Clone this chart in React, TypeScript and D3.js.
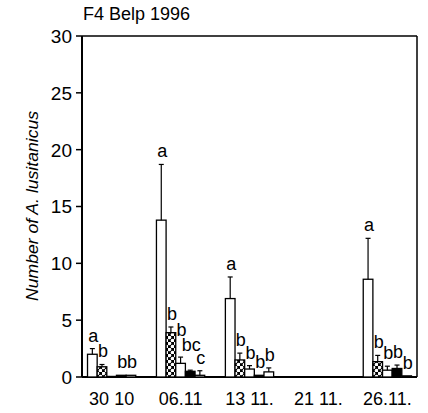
import React from 'react';
import * as d3 from 'd3';

const dates = ['30 10', '06.11', '13 11.', '21 11.', '26.11.'];
const seriesKeys = ['s1', 's2', 's3', 's4', 's5'];
const means = [
  [2.0, 0.9, 0.05, 0.15, 0.15],
  [13.8, 3.9, 1.2, 0.5, 0.15],
  [6.9, 1.5, 0.7, 0.15, 0.45],
  [0, 0, 0, 0, 0],
  [8.6, 1.35, 0.6, 0.75, 0.1],
];
const upper = [
  [2.5, 1.1, 0.05, 0.15, 0.15],
  [18.7, 4.4, 1.75, 0.6, 0.55],
  [8.8, 2.1, 1.0, 0.15, 0.8],
  [0, 0, 0, 0, 0],
  [12.2, 1.9, 0.95, 1.05, 0.1],
];
const letters = [
  ['a', 'b', '', 'b', 'b'],
  ['a', 'b', 'b', 'bc', 'c'],
  ['a', 'b', 'b', 'b', 'b'],
  ['', '', '', '', ''],
  ['a', 'b', 'b', 'b', 'b'],
];
const yTicks = [0, 5, 10, 15, 20, 25, 30];
const fills = ['#fff', 'url(#mesh)', '#fff', '#000', '#fff'];

const W = 428, H = 413;
const left = 82, right = 417, top = 36, bottom = 377;
const LF = 18; // letter font size

type Lab = { text: string; x: number; base: number; w: number; h: number; u: number; v: number; bx: number; bw: number; fill: string };

export default function App() {
  const y = d3.scaleLinear().domain([0, 30]).range([bottom, top]);
  const x0 = d3.scaleBand<string>().domain(dates).range([left, right]).paddingInner(0.3).paddingOuter(0.08);
  const x1 = d3.scaleBand<string>().domain(seriesKeys).range([0, x0.bandwidth()]);
  const font = 'Liberation Sans, Arial, Helvetica, sans-serif';

  const groups: Lab[][] = dates.map((d, gi) => {
    const items: Lab[] = seriesKeys.map((s, si) => {
      const bx = x0(d)! + x1(s)!;
      const bw = x1.bandwidth();
      const t = letters[gi][si];
      return {
        text: t,
        x: bx + bw / 2 + 1,
        base: y(upper[gi][si]) - 7,
        w: t.length * 0.5 * LF,
        h: t.includes('b') ? 0.76 * LF : 0.6 * LF,
        u: upper[gi][si],
        v: means[gi][si],
        bx,
        bw,
        fill: fills[si],
      };
    });
    const placed: Lab[] = [];
    for (let i = items.length - 1; i >= 0; i--) {
      const it = items[i];
      if (!it.text) continue;
      for (const p of placed) {
        const hOverlap = it.x - it.w / 2 < p.x + p.w / 2 && it.x + it.w / 2 > p.x - p.w / 2;
        const vOverlap = it.base - it.h < p.base && it.base > p.base - p.h;
        if (hOverlap && vOverlap) it.base = p.base - p.h - 1.5;
      }
      placed.push(it);
    }
    return items;
  });

  return (
    <div style={{ position: 'absolute', left: 0, top: 0 }}>
      <svg width={W} height={H} style={{ display: 'block', background: '#fff' }} fontFamily={font}>
        <defs>
          <pattern id="mesh" width={6} height={6} patternUnits="userSpaceOnUse">
            <rect width={6} height={6} fill="#000" />
            <circle cx={1.5} cy={1.5} r={1.8} fill="#fff" />
            <circle cx={4.5} cy={4.5} r={1.8} fill="#fff" />
          </pattern>
        </defs>
        <text x={83} y={20} fontSize={18}>F4 Belp 1996</text>
        <line x1={left} x2={right} y1={top} y2={top} stroke="#000" strokeWidth={1.5} />
        <line x1={right} x2={right} y1={top} y2={bottom} stroke="#000" strokeWidth={1.5} />
        <line x1={left} x2={right} y1={bottom} y2={bottom} stroke="#000" strokeWidth={1.8} />
        <line x1={left} x2={left} y1={top} y2={bottom} stroke="#000" strokeWidth={2} />
        {yTicks.map((t) => (
          <g key={t}>
            <line x1={left - 6} x2={left} y1={y(t)} y2={y(t)} stroke="#000" strokeWidth={1.5} />
            <text x={left - 10} y={y(t)} dy="0.36em" textAnchor="end" fontSize={19}>{t}</text>
          </g>
        ))}
        <text
          transform={`translate(38,206) rotate(-90)`}
          textAnchor="middle"
          fontSize={17}
          fontStyle="italic"
          textLength={190}
          lengthAdjust="spacingAndGlyphs"
        >Number of A. lusitanicus</text>
        {groups.map((items, gi) => (
          <g key={dates[gi]}>
            {items.map((it, si) => {
              const cx = it.bx + it.bw / 2;
              return (
                <g key={si}>
                  {it.v > 0 && (
                    <rect x={it.bx} y={y(it.v)} width={it.bw} height={y(0) - y(it.v)} fill={it.fill} stroke="#000" strokeWidth={1.3} />
                  )}
                  {it.u > it.v && (
                    <g stroke="#000" strokeWidth={1.2}>
                      <line x1={cx} x2={cx} y1={y(it.v)} y2={y(it.u)} />
                      <line x1={cx - 2.5} x2={cx + 2.5} y1={y(it.u)} y2={y(it.u)} />
                    </g>
                  )}
                  {it.text && (
                    <text x={it.x} y={it.base} textAnchor="middle" fontSize={LF}>{it.text}</text>
                  )}
                </g>
              );
            })}
          </g>
        ))}
        {dates.map((d) => (
          <text key={d} x={x0(d)! + x0.bandwidth() / 2} y={bottom + 28} textAnchor="middle" fontSize={18}>{d}</text>
        ))}
      </svg>
    </div>
  );
}
